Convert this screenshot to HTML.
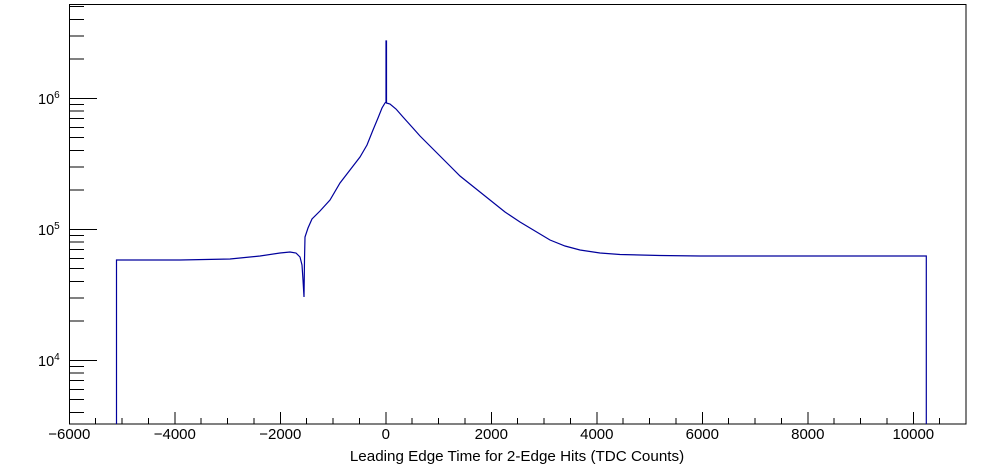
<!DOCTYPE html>
<html><head><meta charset="utf-8"><style>
html,body{margin:0;padding:0;background:#fff;}
svg{display:block;}
text{font-family:"Liberation Sans",Arial,sans-serif;fill:#000;}
</style></head><body>
<svg width="996" height="472" viewBox="0 0 996 472" xmlns="http://www.w3.org/2000/svg">
<rect x="0" y="0" width="996" height="472" fill="#fff"/>
<g stroke="#000" stroke-width="1" fill="none" shape-rendering="crispEdges">
<rect x="69.5" y="4.5" width="896.5" height="419.5"/>
<path d="M69.5 424V412 M95.7 424V418 M122 424V418 M148.4 424V418 M174.8 424V412 M201.2 424V418 M227.6 424V418 M253.9 424V418 M280.3 424V412 M306.7 424V418 M333.1 424V418 M359.4 424V418 M385.8 424V412 M412.2 424V418 M438.6 424V418 M464.9 424V418 M491.3 424V412 M517.7 424V418 M544.1 424V418 M570.4 424V418 M596.8 424V412 M623.2 424V418 M649.6 424V418 M675.9 424V418 M702.3 424V412 M728.7 424V418 M755.1 424V418 M781.4 424V418 M807.8 424V412 M834.2 424V418 M860.6 424V418 M886.9 424V418 M913.3 424V412 M939.7 424V418"/>
<path d="M69.5 412.4H84 M69.5 399.7H84 M69.5 389.3H84 M69.5 380.6H84 M69.5 373H84 M69.5 366.3H84 M69.5 360.3H97
M69.5 320.9H84 M69.5 297.8H84 M69.5 281.4H84 M69.5 268.7H84 M69.5 258.3H84 M69.5 249.6H84 M69.5 242H84 M69.5 235.3H84 M69.5 229.3H97
M69.5 189.9H84 M69.5 166.8H84 M69.5 150.4H84 M69.5 137.7H84 M69.5 127.3H84 M69.5 118.6H84 M69.5 111H84 M69.5 104.3H84 M69.5 98.3H97
M69.5 58.9H84 M69.5 35.8H84 M69.5 19.4H84 M69.5 6.7H84"/>
</g>
<polyline fill="none" stroke="#00009c" stroke-width="1.2" points="116.5,424 116.5,260 180,260 230,259 260,256 280,253 290,252 296,253 300,257 302,265 303,280 304,297 304.5,260 305,237 308,228 312,219 320,211 330,200 340,183 350,170 360,157 367,145 373,130 378,118 382,108 385,103 386,102 386,41 386.5,41 386.5,103 390,104 396,109 403,117 412,127 420,136 430,146 440,156 450,166 460,176 475,188 490,200 505,212 520,222 535,231 550,240 565,246 580,250 600,253 620,254.5 660,255.5 700,256 800,256 926.3,256 926.3,424"/>
<g font-size="15" text-anchor="middle">
<text x="69.3" y="439">−6000</text>
<text x="174.8" y="439">−4000</text>
<text x="280.3" y="439">−2000</text>
<text x="385.8" y="439">0</text>
<text x="491.3" y="439">2000</text>
<text x="596.8" y="439">4000</text>
<text x="702.3" y="439">6000</text>
<text x="807.8" y="439">8000</text>
<text x="913.3" y="439">10000</text>
</g>
<text x="517" y="461" font-size="15.2" text-anchor="middle">Leading Edge Time for 2-Edge Hits (TDC Counts)</text>
<g font-size="14.5">
<text x="38" y="104">10<tspan font-size="10" dy="-6">6</tspan></text>
<text x="38" y="235">10<tspan font-size="10" dy="-6">5</tspan></text>
<text x="38" y="366">10<tspan font-size="10" dy="-6">4</tspan></text>
</g>
</svg>
</body></html>
